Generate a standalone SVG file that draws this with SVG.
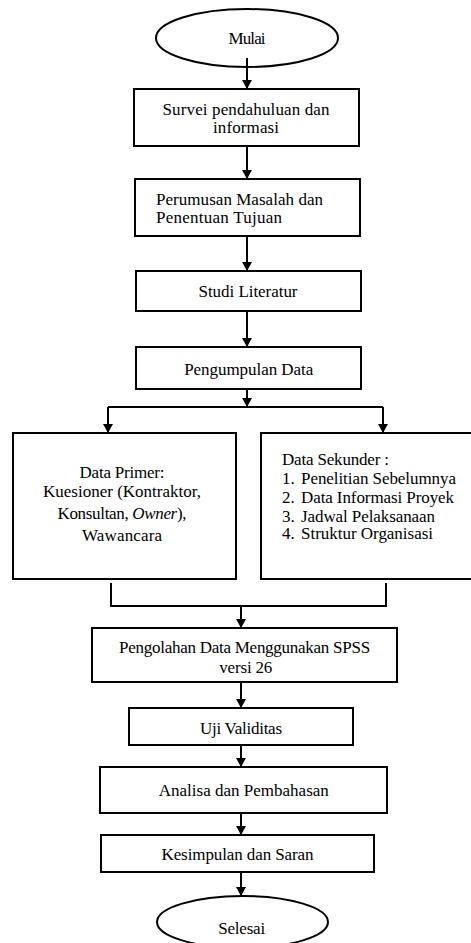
<svg xmlns="http://www.w3.org/2000/svg" width="471" height="943" viewBox="0 0 471 943">
<defs>
<marker id="ah" markerUnits="userSpaceOnUse" markerWidth="9" markerHeight="10" refX="9" refY="5" orient="auto">
<path d="M0,0 L9,5 L0,10 z" fill="#000"/>
</marker>
<style>
.n{fill:#fff;stroke:#000;stroke-width:2}
.o{fill:none;stroke:#000;stroke-width:2}
.t{font-family:"Liberation Serif","Times New Roman",serif;font-size:17px;fill:#000}
.c{text-anchor:middle}
.e{fill:none;stroke:#000;stroke-width:2}
.a{fill:none;stroke:#000;stroke-width:2;marker-end:url(#ah)}
</style>
</defs>
<rect width="471" height="943" fill="#fff"/>

<g id="connectors">
<line class="a" x1="247" y1="58" x2="247" y2="89"/>
<line class="a" x1="247" y1="146" x2="247" y2="179"/>
<line class="a" x1="247" y1="236" x2="247" y2="271"/>
<line class="a" x1="247" y1="311" x2="247" y2="347"/>
<line class="a" x1="247" y1="389" x2="247" y2="407"/>
<polyline class="e" points="108,407 383,407"/>
<line class="a" x1="108" y1="407" x2="108" y2="433"/>
<line class="a" x1="383" y1="407" x2="383" y2="433"/>
<polyline class="e" points="111,583 111,606 386,606 386,583"/>
<line class="a" x1="241" y1="606" x2="241" y2="628"/>
<line class="a" x1="241" y1="682" x2="241" y2="708"/>
<line class="a" x1="241" y1="745" x2="241" y2="767"/>
<line class="a" x1="241" y1="813" x2="241" y2="835"/>
<line class="a" x1="241" y1="872" x2="241" y2="896"/>
</g>

<g id="mulai">
<ellipse class="o" cx="247" cy="38" rx="91" ry="29"/>
<text class="t c" x="247" y="44" textLength="37">Mulai</text>
</g>

<g id="survei">
<rect class="n" x="134" y="89" width="225" height="57"/>
<text class="t c" x="246" y="115" textLength="167">Survei pendahuluan dan</text>
<text class="t c" x="246" y="133" textLength="66">informasi</text>
</g>

<g id="perumusan">
<rect class="n" x="135" y="179" width="225" height="57"/>
<text class="t" x="156" y="205" textLength="167">Perumusan Masalah dan</text>
<text class="t" x="156" y="223" textLength="126">Penentuan Tujuan</text>
</g>

<g id="studi">
<rect class="n" x="136" y="271" width="225" height="40"/>
<text class="t c" x="248" y="296.5" textLength="99">Studi Literatur</text>
</g>

<g id="pengumpulan">
<rect class="n" x="136" y="347" width="225" height="42"/>
<text class="t c" x="248.7" y="375" textLength="129">Pengumpulan Data</text>
</g>

<g id="primer">
<rect class="n" x="13" y="433" width="223" height="146"/>
<text class="t c" x="122" y="477.7" textLength="85">Data Primer:</text>
<text class="t c" x="122" y="497.3" textLength="158">Kuesioner (Kontraktor,</text>
<text class="t c" x="122" y="519.3" textLength="129">Konsultan, <tspan font-style="italic">Owner</tspan>),</text>
<text class="t c" x="122" y="540.7" textLength="80">Wawancara</text>
</g>

<g id="sekunder">
<rect class="n" x="261" y="433" width="216" height="146"/>
<text class="t" x="282" y="465" textLength="107">Data Sekunder :</text>
<text class="t" x="282" y="484">1.</text>
<text class="t" x="301" y="484" textLength="155">Penelitian Sebelumnya</text>
<text class="t" x="282" y="502.7">2.</text>
<text class="t" x="301" y="502.7" textLength="153">Data Informasi Proyek</text>
<text class="t" x="282" y="521.7">3.</text>
<text class="t" x="301" y="521.7" textLength="134">Jadwal Pelaksanaan</text>
<text class="t" x="282" y="539.3">4.</text>
<text class="t" x="301" y="539.3" textLength="132">Struktur Organisasi</text>
</g>

<g id="pengolahan">
<rect class="n" x="92" y="628" width="305" height="54"/>
<text class="t c" x="244.6" y="653.3" textLength="251">Pengolahan Data Menggunakan SPSS</text>
<text class="t c" x="245.8" y="672.7" textLength="53">versi 26</text>
</g>

<g id="uji">
<rect class="n" x="129" y="708" width="224" height="37"/>
<text class="t c" x="241" y="734.3" textLength="82">Uji Validitas</text>
</g>

<g id="analisa">
<rect class="n" x="100" y="767" width="287" height="46"/>
<text class="t c" x="243.8" y="795.7" textLength="170">Analisa dan Pembahasan</text>
</g>

<g id="kesimpulan">
<rect class="n" x="101" y="835" width="273" height="37"/>
<text class="t c" x="237.5" y="860" textLength="152">Kesimpulan dan Saran</text>
</g>

<g id="selesai">
<ellipse class="n" cx="242.5" cy="922" rx="85.5" ry="26"/>
<text class="t c" x="241.7" y="934" textLength="47">Selesai</text>
</g>
</svg>
